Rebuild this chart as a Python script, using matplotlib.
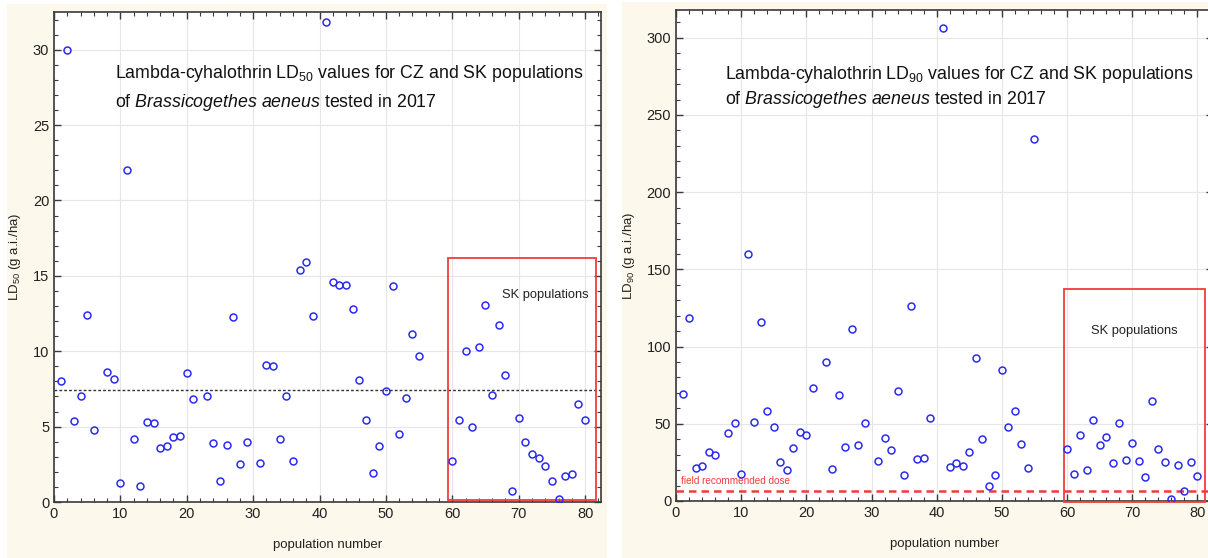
import matplotlib
matplotlib.use("Agg")
import matplotlib.pyplot as plt
from matplotlib.patches import Rectangle
from matplotlib.ticker import MultipleLocator

plt.rcParams['font.family'] = ['Liberation Sans', 'DejaVu Sans']
plt.rcParams['mathtext.fontset'] = 'custom'
plt.rcParams['mathtext.rm'] = 'Liberation Sans'
plt.rcParams['mathtext.it'] = 'Liberation Sans:italic'

# population numbers (7, 22, 30, 40, 56-59 were not tested)
pops = [1, 2, 3, 4, 5, 6, 8, 9, 10, 11, 12, 13, 14, 15, 16, 17, 18, 19, 20, 21,
        23, 24, 25, 26, 27, 28, 29, 31, 32, 33, 34, 35, 36, 37, 38, 39,
        41, 42, 43, 44, 45, 46, 47, 48, 49, 50, 51, 52, 53, 54, 55,
        60, 61, 62, 63, 64, 65, 66, 67, 68, 69, 70, 71, 72, 73, 74, 75, 76, 77, 78, 79, 80]

ld50 = [8.05, 30.0, 5.4, 7.0, 12.4, 4.8, 8.6, 8.16, 1.26, 22.0, 4.19, 1.06, 5.28, 5.26,
        3.55, 3.7, 4.3, 4.41, 8.54, 6.83,
        7.01, 3.93, 1.42, 3.77, 12.26, 2.53, 3.95, 2.57, 9.11, 9.05, 4.17, 7.03, 2.75,
        15.4, 15.9, 12.35,
        31.85, 14.59, 14.37, 14.37, 12.8, 8.12, 5.46, 1.9, 3.73, 7.36, 14.3, 4.52, 6.9,
        11.16, 9.67,
        2.73, 5.43, 10.02, 4.99, 10.29, 13.06, 7.12, 11.71, 8.4, 0.73, 5.54, 3.95, 3.17,
        2.95, 2.42, 1.4, 0.2, 1.73, 1.88, 6.47, 5.43]

ld90 = [69.3, 118.6, 21.4, 22.7, 31.8, 30.0, 44.0, 50.3, 17.3, 160.1, 51.2, 116.0, 58.1,
        47.7, 25.3, 20.1, 34.1, 44.9, 42.5, 73.2,
        90.3, 20.9, 68.7, 35.2, 111.5, 36.3, 50.3, 25.9, 41.0, 32.8, 71.0, 16.6, 126.1,
        27.2, 27.9, 53.5,
        306.1, 21.8, 24.8, 22.9, 31.8, 92.4, 40.4, 9.7, 17.0, 85.1, 48.2, 58.1, 36.9,
        21.1, 234.2,
        33.7, 17.7, 42.8, 20.3, 52.3, 36.3, 41.2, 24.8, 50.3, 26.3, 37.8, 25.9, 15.3,
        64.8, 33.7, 25.0, 1.3, 23.1, 6.5, 25.3, 16.4]

ld50_mean = 7.41
field_dose = 6.25

W, H = 1208, 558
fig = plt.figure(figsize=(W / 100, H / 100), dpi=100)
fig.patch.set_facecolor('white')

cream = '#fdf8ec'
# two cream panels side by side with a white gap
fig.patches.append(Rectangle((7 / W, 0), 600 / W, 554 / H, transform=fig.transFigure,
                             facecolor=cream, edgecolor='none', zorder=-5))
fig.patches.append(Rectangle((622 / W, 0), 586 / W, 556 / H, transform=fig.transFigure,
                             facecolor=cream, edgecolor='none', zorder=-5))

ax1 = fig.add_axes([54 / W, 56 / H, 547 / W, 490 / H])
ax2 = fig.add_axes([676 / W, 57 / H, 537 / W, 491 / H])

blue = '#2b2bf0'
red = '#f03c3c'
spine_col = '#3a3a3a'
txt = '#222222'


def style(ax, ymaj, ymin):
    ax.set_facecolor('white')
    ax.xaxis.set_major_locator(MultipleLocator(10))
    ax.xaxis.set_minor_locator(MultipleLocator(2))
    ax.yaxis.set_major_locator(MultipleLocator(ymaj))
    ax.yaxis.set_minor_locator(MultipleLocator(ymin))
    ax.tick_params(which='both', direction='in', top=True, right=True,
                   colors=spine_col, labelcolor=txt, labelsize=10.5)
    ax.tick_params(which='major', length=5, width=1)
    ax.tick_params(which='minor', length=3, width=0.8)
    ax.grid(True, which='major', color='#e6e6e6', linewidth=0.8)
    ax.set_axisbelow(True)
    for s in ax.spines.values():
        s.set_color(spine_col)
        s.set_linewidth(1.2)
    ax.set_xlabel('population number', fontsize=9.5, color=txt, labelpad=13)


# ---- LD50 panel
ax1.plot(pops, ld50, 'o', mfc='none', mec=blue, ms=5, mew=1.1, zorder=4)
ax1.axhline(ld50_mean, color='#333333', linestyle=(0, (2, 1.5)), linewidth=1)
ax1.set_xlim(0, 82.4)
ax1.set_ylim(0, 32.5)
style(ax1, 5, 1)
ax1.set_ylabel('LD$_{50}$ (g a.i./ha)', fontsize=9.5, color=txt, labelpad=7)
ax1.add_patch(Rectangle((59.4, 0.15), 22.2, 16.05, fill=False, edgecolor=red,
                        linewidth=1.3, zorder=3))
ax1.text(74.0, 13.7, 'SK populations', fontsize=9.3, ha='center', va='center', color=txt)
ax1.text(9.2, 28.4, 'Lambda-cyhalothrin LD$_{50}$ values for CZ and SK populations',
         fontsize=12.8, va='center', color='#111111')
ax1.text(9.2, 26.5, 'of $\\it{Brassicogethes\\ aeneus}$ tested in 2017',
         fontsize=12.8, va='center', color='#111111')

# ---- LD90 panel
ax2.plot(pops, ld90, 'o', mfc='none', mec=blue, ms=5, mew=1.1, zorder=4)
ax2.axhline(field_dose, color=red, linestyle=(0, (3, 2)), linewidth=1.8, zorder=3)
ax2.text(0.7, 13.2, 'field recommended dose', fontsize=7.2, color=red, va='center')
ax2.set_xlim(0, 82.4)
ax2.set_ylim(0, 318)
style(ax2, 50, 10)
ax2.set_ylabel('LD$_{90}$ (g a.i./ha)', fontsize=9.5, color=txt, labelpad=7)
ax2.add_patch(Rectangle((59.6, -0.5), 21.6, 137.5, fill=False, edgecolor=red,
                        linewidth=1.3, zorder=3, clip_on=False))
ax2.text(70.4, 110.4, 'SK populations', fontsize=9.3, ha='center', va='center', color=txt)
ax2.text(7.5, 276, 'Lambda-cyhalothrin LD$_{90}$ values for CZ and SK populations',
         fontsize=12.8, va='center', color='#111111')
ax2.text(7.5, 260, 'of $\\it{Brassicogethes\\ aeneus}$ tested in 2017',
         fontsize=12.8, va='center', color='#111111')

fig.savefig('out.png', dpi=100, facecolor=fig.get_facecolor())
